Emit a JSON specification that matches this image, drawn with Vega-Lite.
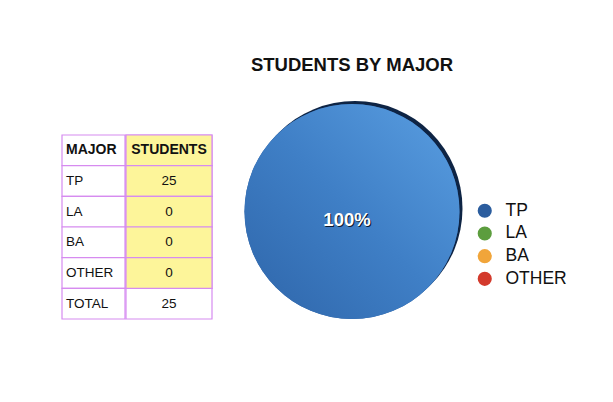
{
  "$schema": "https://vega.github.io/schema/vega-lite/v6.json",
  "background": "white",
  "padding": {"left": 61, "top": 55, "right": 0, "bottom": 0},
  "config": {"view": {"stroke": null}, "font": "Liberation Sans"},
  "datasets": {
    "cells": [
      {"row": "head", "col": "MAJOR", "label": "MAJOR", "kind": "header"},
      {"row": "head", "col": "STUDENTS", "label": "STUDENTS", "kind": "header"},
      {"row": "TP", "col": "MAJOR", "label": "TP", "kind": "name"},
      {"row": "TP", "col": "STUDENTS", "label": "25", "kind": "count"},
      {"row": "LA", "col": "MAJOR", "label": "LA", "kind": "name"},
      {"row": "LA", "col": "STUDENTS", "label": "0", "kind": "count"},
      {"row": "BA", "col": "MAJOR", "label": "BA", "kind": "name"},
      {"row": "BA", "col": "STUDENTS", "label": "0", "kind": "count"},
      {"row": "OTHER", "col": "MAJOR", "label": "OTHER", "kind": "name"},
      {"row": "OTHER", "col": "STUDENTS", "label": "0", "kind": "count"},
      {"row": "TOTAL", "col": "MAJOR", "label": "TOTAL", "kind": "name"},
      {"row": "TOTAL", "col": "STUDENTS", "label": "25", "kind": "total"}
    ],
    "majors": [
      {"major": "TP", "students": 25, "share": 1},
      {"major": "LA", "students": 0, "share": 0},
      {"major": "BA", "students": 0, "share": 0},
      {"major": "OTHER", "students": 0, "share": 0}
    ]
  },
  "spacing": 31.5,
  "hconcat": [
    {
      "spacing": -1.2,
      "hconcat": [
        {
          "width": 63,
          "height": 215,
          "data": {"name": "cells"},
          "transform": [{"filter": "datum.col === 'MAJOR'"}],
          "encoding": {
            "y": {"field": "row", "type": "nominal", "sort": null, "axis": null,
                  "scale": {"paddingInner": 0, "paddingOuter": 0.505, "align": 1}},
            "x": {"field": "col", "type": "nominal", "axis": null, "bandPosition": 0,
                  "scale": {"paddingInner": 0, "paddingOuter": 0}}
          },
          "layer": [
            {"mark": {"type": "rect", "fill": "white", "stroke": "#d68bf0", "strokeWidth": 1.2}},
            {"transform": [{"filter": "datum.kind === 'header'"}],
             "mark": {"type": "text", "align": "left", "dx": 4, "fontSize": 14, "fontWeight": "bold", "fill": "#111"},
             "encoding": {"text": {"field": "label"}}},
            {"transform": [{"filter": "datum.kind !== 'header'"}],
             "mark": {"type": "text", "align": "left", "dx": 4, "fontSize": 13.5, "fill": "#111"},
             "encoding": {"text": {"field": "label"}}}
          ]
        },
        {
          "width": 86,
          "height": 215,
          "data": {"name": "cells"},
          "transform": [{"filter": "datum.col === 'STUDENTS'"}],
          "encoding": {
            "y": {"field": "row", "type": "nominal", "sort": null, "axis": null,
                  "scale": {"paddingInner": 0, "paddingOuter": 0.505, "align": 1}},
            "x": {"field": "col", "type": "nominal", "axis": null,
                  "scale": {"paddingInner": 0, "paddingOuter": 0}}
          },
          "layer": [
            {"mark": {"type": "rect", "fill": "white", "stroke": "#d68bf0", "strokeWidth": 1.2}},
            {"transform": [{"filter": "datum.kind !== 'total'"}],
             "mark": {"type": "rect", "fill": "#fdf59a", "stroke": "#d68bf0", "strokeWidth": 1.2}},
            {"transform": [{"filter": "datum.kind === 'header'"}],
             "mark": {"type": "text", "fontSize": 14, "fontWeight": "bold", "fill": "#111"},
             "encoding": {"text": {"field": "label"}}},
            {"transform": [{"filter": "datum.kind !== 'header'"}],
             "mark": {"type": "text", "fontSize": 13.5, "fill": "#111"},
             "encoding": {"text": {"field": "label"}}}
          ]
        }
      ]
    },
    {
      "width": 215,
      "height": 215,
      "title": {"text": "STUDENTS BY MAJOR", "fontSize": 18.5, "fontWeight": "bold", "offset": 27, "color": "#111", "font": "Liberation Sans"},
      "data": {"name": "majors"},
      "encoding": {"theta": {"field": "students", "type": "quantitative", "stack": true}},
      "layer": [
        {"mark": {"type": "arc", "fill": "#0e2444", "xOffset": 3, "yOffset": -3}},
        {"mark": {"type": "arc"},
         "encoding": {"color": {"field": "major", "type": "nominal",
           "scale": {"domain": ["TP", "LA", "BA", "OTHER"], "range": ["#2b5d9e", "#5c9d3e", "#f1a53a", "#d33a2c"]},
           "legend": {"orient": "none", "legendX": 414, "legendY": 98, "title": null, "symbolType": "circle",
                      "symbolSize": 200, "symbolStrokeWidth": 0, "symbolOpacity": 1, "labelFontSize": 17.5,
                      "labelFont": "Liberation Sans", "labelColor": "#111", "rowPadding": 3.7, "labelOffset": 12}}}},
        {"mark": {"type": "arc", "strokeWidth": 0,
                  "fill": {"gradient": "linear", "x1": 1, "y1": 0, "x2": 0, "y2": 1,
                           "stops": [{"offset": 0, "color": "#5a9fe2"}, {"offset": 0.5, "color": "#3f7fc6"}, {"offset": 1, "color": "#2e65a9"}]}}},
        {"transform": [{"filter": "datum.students > 0"}],
         "mark": {"type": "text", "radius": 8, "fontSize": 18.5, "fontWeight": "bold", "fill": "#0b1a30", "dx": -4, "dy": 1.5},
         "encoding": {"text": {"field": "share", "format": ".0%"}}},
        {"transform": [{"filter": "datum.students > 0"}],
         "mark": {"type": "text", "radius": 8, "fontSize": 18.5, "fontWeight": "bold", "fill": "white", "dx": -5},
         "encoding": {"text": {"field": "share", "format": ".0%"}}}
      ]
    }
  ]
}
